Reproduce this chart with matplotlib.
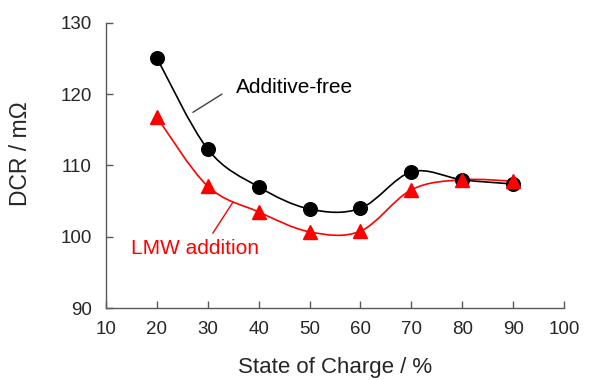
import matplotlib
matplotlib.use('Agg')
import matplotlib.pyplot as plt
from matplotlib.path import Path
from matplotlib.patches import PathPatch

plt.rcParams['font.family'] = ['Liberation Sans', 'DejaVu Sans']

# data
soc = [20, 30, 40, 50, 60, 70, 80, 90]
dcr_free = [125.1, 112.3, 107.0, 103.9, 104.0, 109.1, 108.0, 107.4]
dcr_lmw = [116.8, 107.1, 103.5, 100.7, 100.8, 106.6, 108.0, 107.8]
xticks = [10, 20, 30, 40, 50, 60, 70, 80, 90, 100]
yticks = [90, 100, 110, 120, 130]


def smooth_path(xs, ys):
    '''Excel-like smoothed line as cubic Bezier segments through the points.'''
    pts = list(zip(xs, ys))
    n = len(pts)
    verts = [pts[0]]
    codes = [Path.MOVETO]
    for i in range(n - 1):
        p0 = pts[max(i - 1, 0)]
        p1 = pts[i]
        p2 = pts[i + 1]
        p3 = pts[min(i + 2, n - 1)]
        c1 = (p1[0] + (p2[0] - p0[0]) / 6, p1[1] + (p2[1] - p0[1]) / 6)
        c2 = (p2[0] - (p3[0] - p1[0]) / 6, p2[1] - (p3[1] - p1[1]) / 6)
        verts += [c1, c2, p2]
        codes += [Path.CURVE4] * 3
    return Path(verts, codes)


fig = plt.figure(figsize=(6.08, 3.8), dpi=100)
ax = fig.add_axes([0.174, 0.189, 0.754, 0.751])

ax.add_patch(PathPatch(smooth_path(soc, dcr_free), facecolor='none',
                       edgecolor='black', lw=1.2, zorder=2))
ax.add_patch(PathPatch(smooth_path(soc, dcr_lmw), facecolor='none',
                       edgecolor='#ff0000', lw=1.2, zorder=2))
ax.plot(soc, dcr_free, 'o', color='black', ms=9.8, zorder=3)
ax.plot(soc, dcr_lmw, '^', color='#ff0000', ms=9.8, zorder=4)

ax.set_xlim(10, 100)
ax.set_ylim(90, 130)
ax.set_xticks(xticks)
ax.set_yticks(yticks)

for s in ['top', 'right']:
    ax.spines[s].set_visible(False)
for s in ['left', 'bottom']:
    ax.spines[s].set_color('#595959')
    ax.spines[s].set_linewidth(1.0)

ax.tick_params(direction='in', length=5, width=1.0, color='#595959',
               labelsize=13.5, labelcolor='#262626')
ax.tick_params(axis='x', pad=9)
ax.tick_params(axis='y', pad=10)

ax.set_xlabel('State of Charge / %', fontsize=16, color='#262626', labelpad=14)
ax.set_ylabel('DCR / m\u03a9', fontsize=16.5, color='#262626')
ax.yaxis.set_label_coords(-0.16, 0.54)

# annotations with leader lines
ax.text(35.6, 120.9, 'Additive-free', fontsize=15, color='black',
        va='center', ha='left')
ax.annotate('', xy=(27.1, 117.45), xytext=(32.8, 120.0),
            arrowprops=dict(arrowstyle='-', color='#404040', lw=1.0,
                            shrinkA=0, shrinkB=0))
ax.text(14.9, 98.3, 'LMW addition', fontsize=15, color='#ff0000',
        va='center', ha='left')
ax.annotate('', xy=(31.0, 100.5), xytext=(34.95, 104.85),
            arrowprops=dict(arrowstyle='-', color='#ff0000', lw=1.0,
                            shrinkA=0, shrinkB=0))

plt.savefig('out.png', dpi=100)
